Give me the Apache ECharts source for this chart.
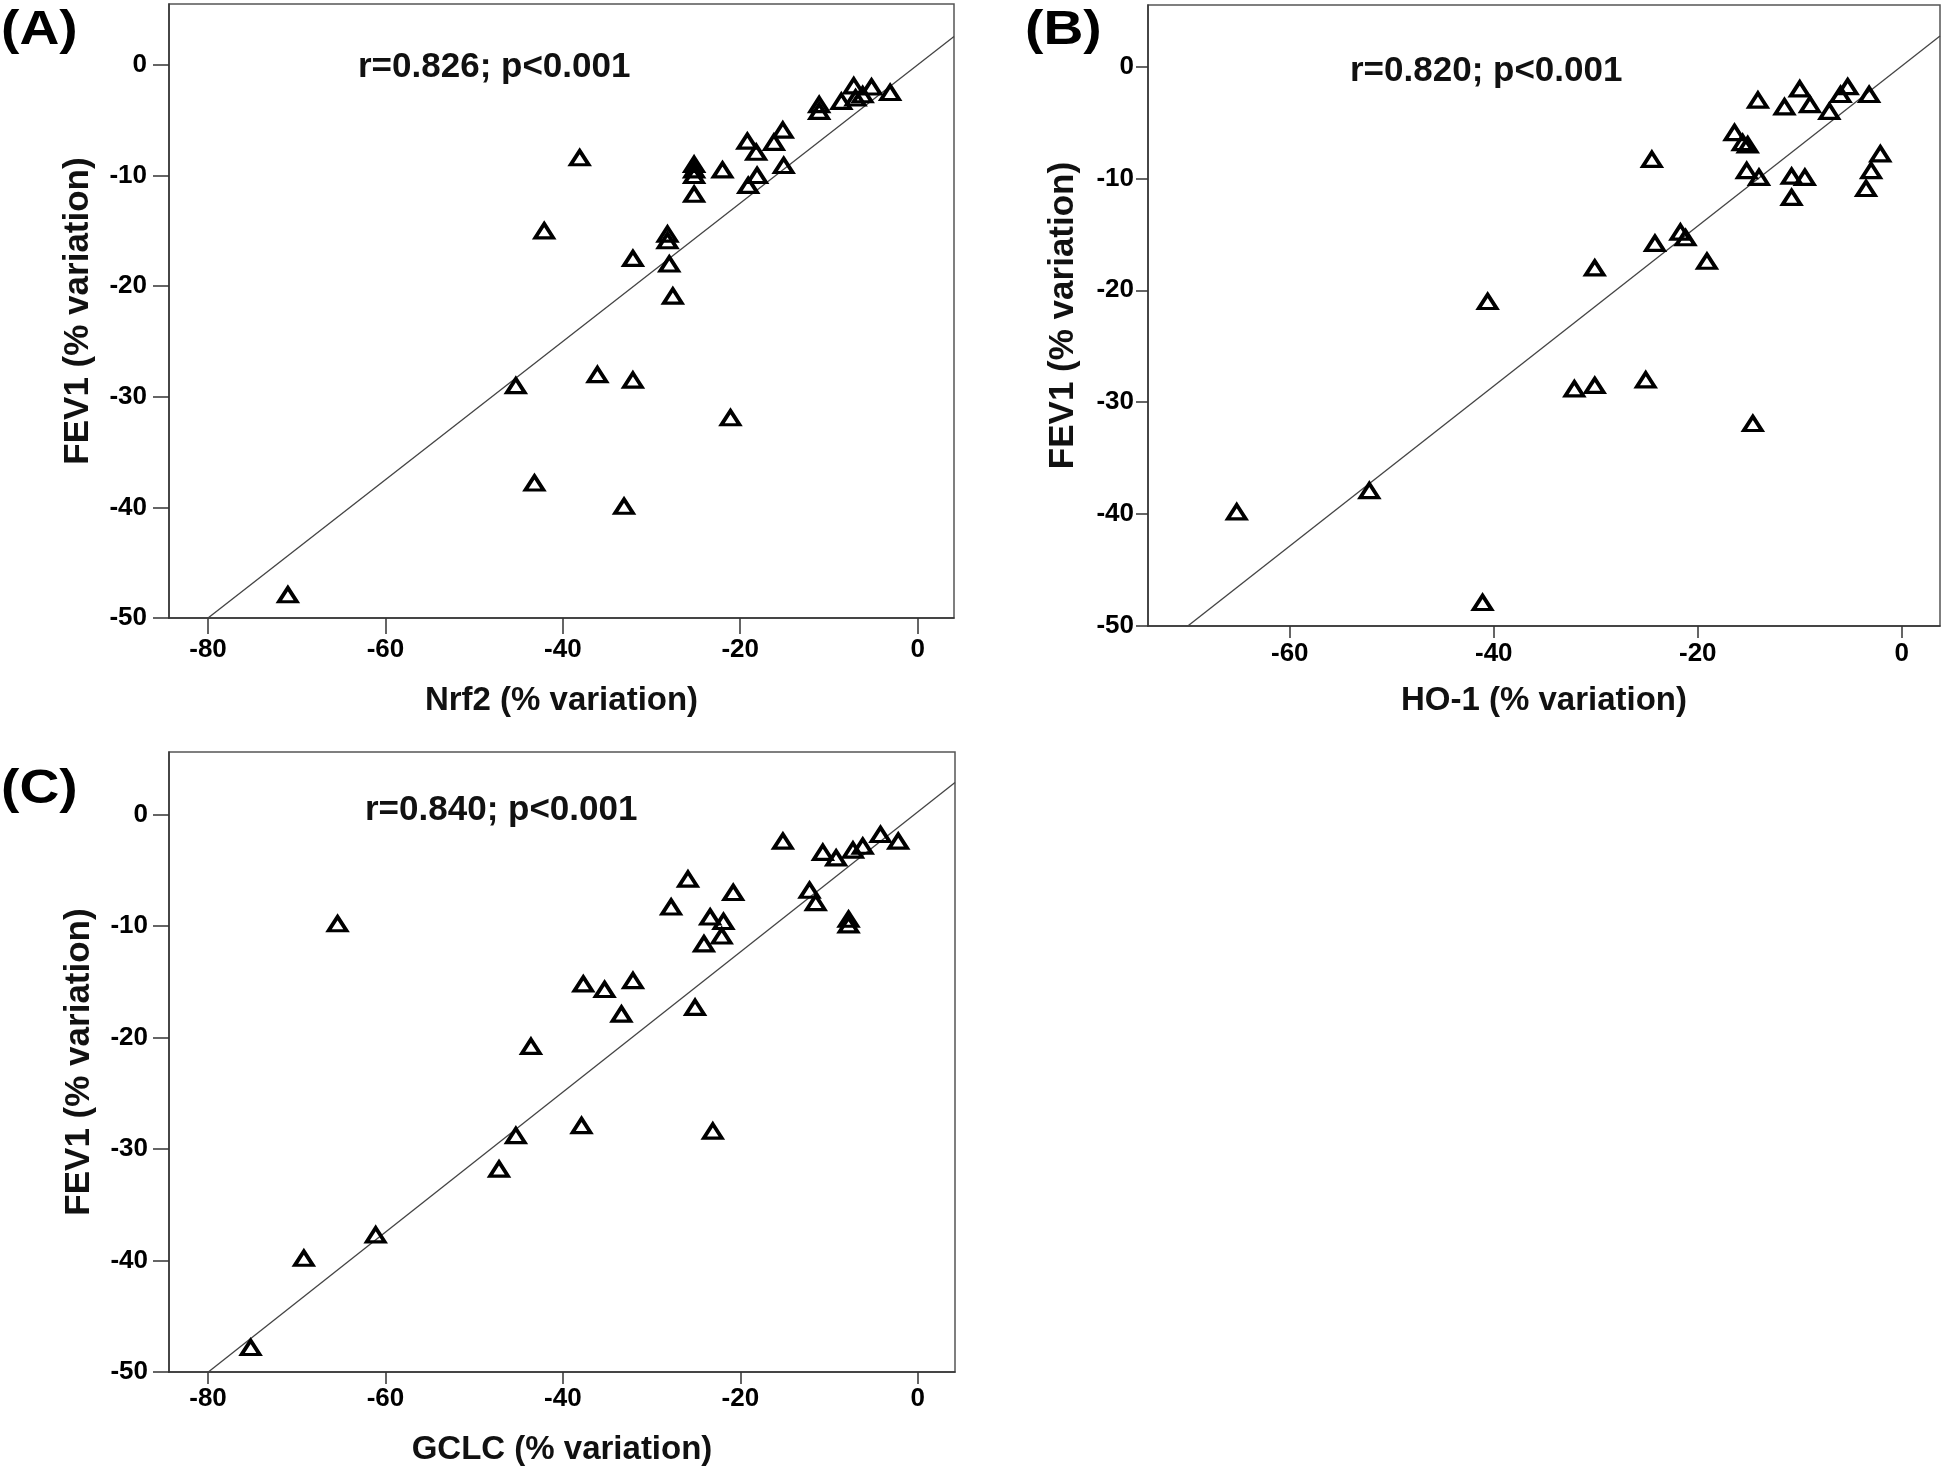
<!DOCTYPE html>
<html><head><meta charset="utf-8">
<script src="https://cdn.jsdelivr.net/npm/echarts@6/dist/echarts.min.js"></script>
<style>html,body{margin:0;padding:0;background:#fff}#c{width:1946px;height:1471px}</style>
</head><body><div id="c"></div>
<script>
// Panel A: Nrf2 vs FEV1
const nrf2Pct = [-71.0,-38.1,-42.1,-32.1,-28.2,-28.2,-28.0,-27.6,-45.3,-36.1,-32.1,-21.1,-43.2,-33.1,-25.2,-25.2,-25.2,-25.2,-22.0,-19.2,-18.2,-19.1,-18.1,-16.2,-15.2,-15.1,-11.1,-11.1,-8.6,-7.2,-7.0,-6.2,-5.2,-3.1];
const fev1A   = [-47.9,-8.4,-15.0,-17.5,-15.3,-15.9,-18.0,-20.9,-29.0,-28.0,-28.5,-31.9,-37.8,-39.9,-9.0,-9.5,-10.0,-11.7,-9.5,-6.9,-7.9,-10.9,-10.0,-7.0,-5.9,-9.1,-3.6,-4.2,-3.3,-1.9,-3.0,-2.7,-2.0,-2.5];
// Panel B: HO-1 vs FEV1
const ho1Pct = [-65.2,-52.2,-41.1,-40.6,-32.1,-30.1,-30.1,-25.1,-14.6,-24.5,-24.2,-21.7,-21.2,-19.1,-16.4,-15.6,-15.1,-15.2,-14.0,-14.1,-11.5,-10.8,-10.8,-9.5,-10.0,-9.0,-7.1,-6.0,-5.3,-3.2,-3.0,-3.5,-2.1];
const fev1B  = [-39.8,-37.9,-47.9,-21.0,-28.8,-28.5,-18.0,-28.0,-31.9,-8.3,-15.8,-14.8,-15.3,-17.4,-5.9,-6.8,-7.0,-9.3,-9.9,-3.0,-3.6,-9.8,-11.7,-9.9,-2.0,-3.4,-4.0,-2.5,-1.8,-2.5,-9.3,-10.9,-7.8];
// Panel C: GCLC vs FEV1
const gclcPct = [-75.2,-69.2,-61.1,-65.4,-47.2,-45.3,-43.6,-37.9,-37.7,-35.3,-32.1,-33.4,-25.1,-23.1,-27.8,-25.9,-23.4,-24.1,-21.9,-22.1,-20.8,-15.2,-12.2,-11.5,-10.7,-9.2,-7.8,-7.8,-7.3,-6.2,-4.2,-2.2];
const fev1C   = [-47.8,-39.8,-37.7,-9.8,-31.8,-28.8,-20.8,-27.9,-15.2,-15.7,-14.9,-17.9,-17.3,-28.4,-8.3,-5.8,-9.2,-11.6,-9.6,-10.9,-7.0,-2.4,-6.8,-7.9,-3.4,-3.9,-9.4,-9.9,-3.2,-2.85,-1.8,-2.4];

// Regression lines [slope, intercept]
const fitA = [0.625, 0.0];
const fitB = [0.715, 0.05];
const fitC = [0.628, 0.22];

// Axis extents and ticks
const xRangeA = [-84.4, 4.1], xRangeB = [-73.9, 3.75], xRangeC = [-84.4, 4.2];
const yRangeA = [-50, 5.5], yRangeB = [-50, 5.5], yRangeC = [-50, 5.6];
const xTicksA = [-80, -60, -40, -20, 0];
const xTicksB = [-60, -40, -20, 0];
const xTicksC = [-80, -60, -40, -20, 0];
const yTicks = [-50, -40, -30, -20, -10, 0];

const xNames = ['Nrf2 (% variation)', 'HO-1 (% variation)', 'GCLC (% variation)'];
const yName = 'FEV1 (% variation)';
const panelLabels = ['(A)', '(B)', '(C)'];
const statTexts = ['r=0.826; p<0.001', 'r=0.820; p<0.001', 'r=0.840; p<0.001'];

const FONT = "'Liberation Sans', Arial, sans-serif";
const chart = echarts.init(document.getElementById('c'), null, {renderer: 'canvas'});

function pts(xs, ys) { return xs.map((x, i) => [x, ys[i]]); }
function fitLine(fit, range) {
  return [[range[0], fit[0] * range[0] + fit[1]], [range[1], fit[0] * range[1] + fit[1]]];
}
const grids = [
  {left: 169, top: 4, width: 785, height: 614},
  {left: 1148, top: 5, width: 792, height: 621},
  {left: 169, top: 752, width: 786, height: 620}
].map(g => Object.assign(g, {show: true, borderColor: '#555', borderWidth: 1.5, backgroundColor: 'transparent'}));

function mkAxis(type, i, name, range, ticks, gap, tickLen, margin) {
  return {
    type: 'value', gridIndex: i, min: range[0], max: range[1],
    name: name, nameLocation: 'middle', nameGap: gap,
    nameTextStyle: {fontFamily: FONT, fontWeight: 'bold', fontSize: type === 'x' ? 33 : 35, color: '#111'},
    axisLine: {show: true, onZero: false, lineStyle: {color: '#333', width: 1.5}},
    axisTick: {show: true, length: tickLen, customValues: ticks, lineStyle: {color: '#333', width: 1.5}},
    axisLabel: {customValues: ticks, margin: margin, fontFamily: FONT, fontWeight: 'bold', fontSize: 26, color: '#000'},
    splitLine: {show: false}
  };
}
const xAxes = [
  mkAxis('x', 0, xNames[0], xRangeA, xTicksA, 66, 16, 19),
  mkAxis('x', 1, xNames[1], xRangeB, xTicksB, 58, 12, 15),
  mkAxis('x', 2, xNames[2], xRangeC, xTicksC, 61, 12, 14)
];
const yAxes = [
  mkAxis('y', 0, yName, yRangeA, yTicks, 73, 16, 22),
  mkAxis('y', 1, yName, yRangeB, yTicks, 67, 12, 14),
  mkAxis('y', 2, yName, yRangeC, yTicks, 72, 16, 21)
];

const sets = [[nrf2Pct, fev1A, fitA, xRangeA], [ho1Pct, fev1B, fitB, xRangeB], [gclcPct, fev1C, fitC, xRangeC]];
const series = [];
sets.forEach((s, i) => {
  series.push({
    type: 'line', xAxisIndex: i, yAxisIndex: i, data: fitLine(s[2], s[3]),
    symbol: 'none', clip: true, silent: true, z: 1,
    lineStyle: {color: '#444', width: 1.3}
  });
  series.push({
    type: 'scatter', xAxisIndex: i, yAxisIndex: i, data: pts(s[0], s[1]),
    symbol: 'triangle', symbolSize: [18, 14], z: 3,
    itemStyle: {color: 'rgba(255,255,255,0)', borderColor: '#000', borderWidth: 3.6, opacity: 1}
  });
});

const statPos = [[358, 67], [1350, 71], [365, 810]];
const labelPos = [[1, 31], [1025, 31], [1, 790]];
const graphic = [];
statTexts.forEach((t, i) => graphic.push({
  type: 'text', x: statPos[i][0], y: statPos[i][1], z: 10,
  style: {text: t, font: "bold 35px 'Liberation Sans', Arial, sans-serif", fill: '#111', textAlign: 'left', textVerticalAlign: 'middle'}
}));
panelLabels.forEach((t, i) => graphic.push({
  type: 'text', x: labelPos[i][0], y: labelPos[i][1], scaleX: 1.15, z: 10,
  style: {text: t, font: "bold 48px 'Liberation Sans', Arial, sans-serif", fill: '#000', textAlign: 'left', textVerticalAlign: 'middle'}
}));

chart.setOption({
  animation: false,
  backgroundColor: '#fff',
  grid: grids, xAxis: xAxes, yAxis: yAxes, series: series, graphic: graphic
});
</script></body></html>
